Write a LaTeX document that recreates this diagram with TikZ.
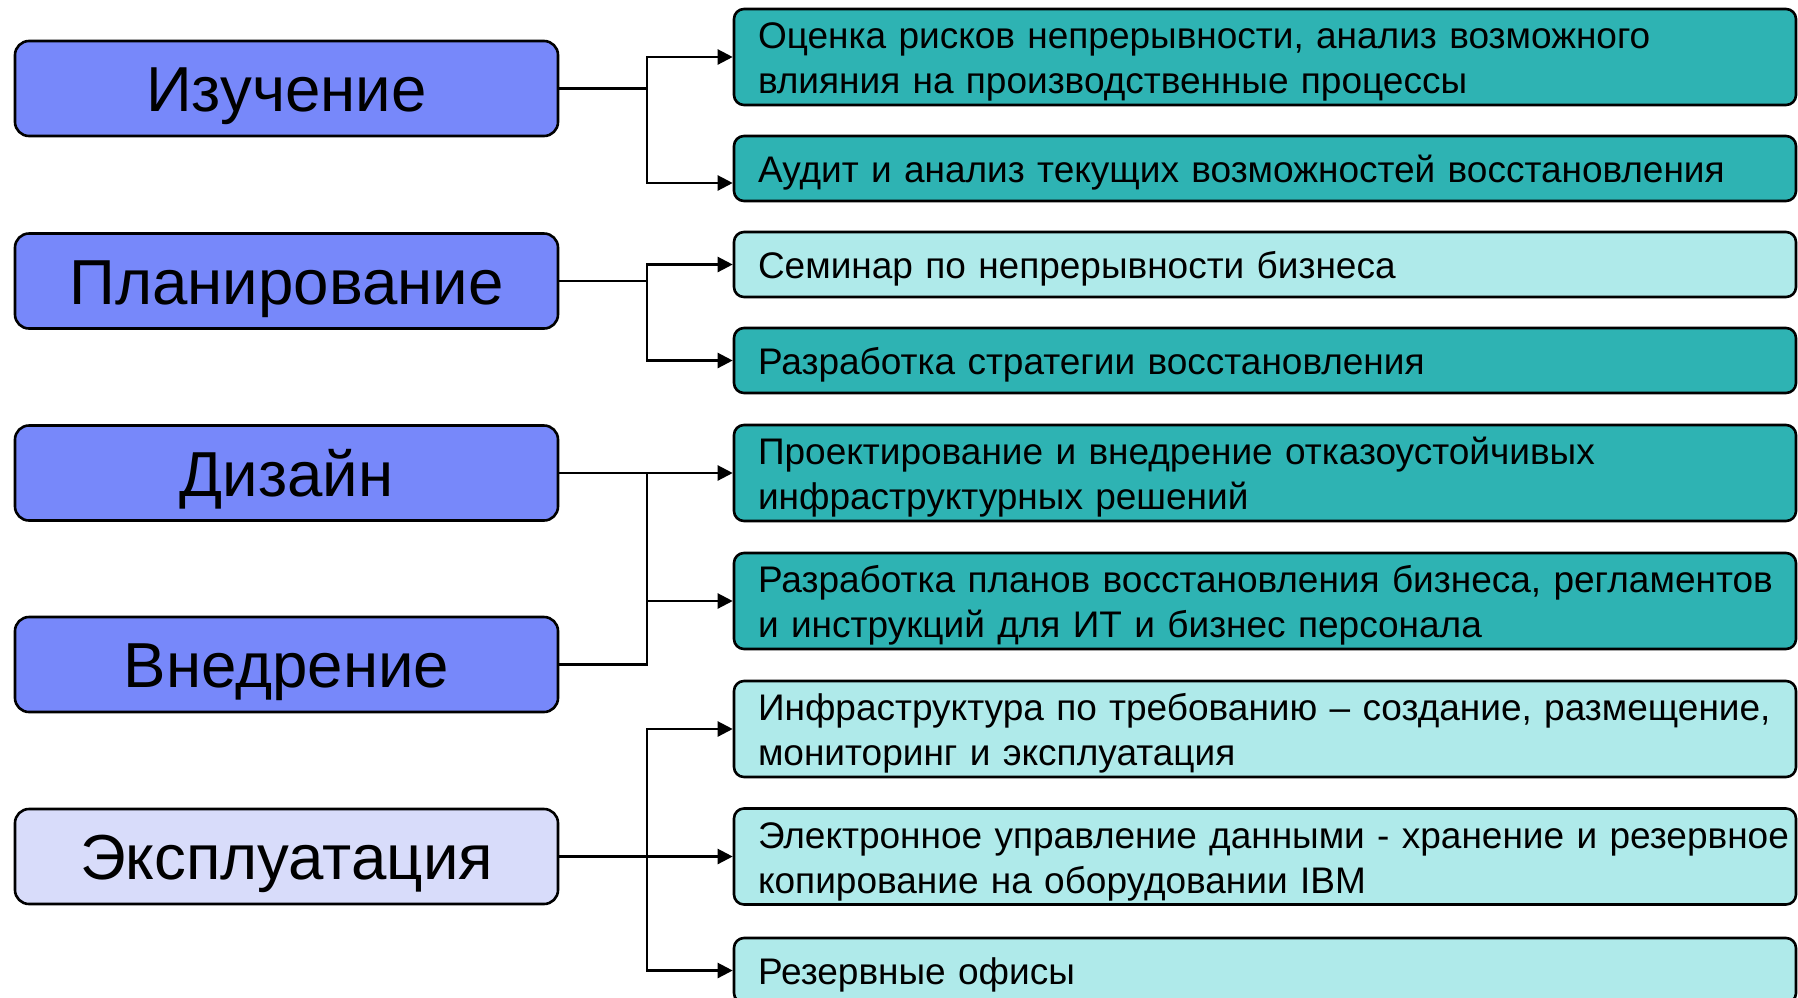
\documentclass[tikz,border=0pt]{standalone}
\usepackage{fontspec}
\setmainfont{Liberation Sans}
\usetikzlibrary{arrows.meta,calc}
\definecolor{phaseblue}{HTML}{7788FA}
\definecolor{phaselight}{HTML}{D8DCFA}
\definecolor{tealdark}{HTML}{2EB3B3}
\definecolor{teallight}{HTML}{AFEAEA}
\tikzset{
  phase/.style={draw=black, line width=1.3pt, rounded corners=7pt, fill=phaseblue,
    minimum width=271.5pt, minimum height=47.5pt, inner sep=0pt,
    text height=29.8pt, text depth=6.6pt,
    font=\fontsize{31.8}{36}\selectfont},
  taskbox/.style={draw=black, line width=1.3pt, rounded corners=5pt,
    text width=507pt, align=left, inner xsep=12pt, inner ysep=0pt,
    text height=18.2pt,
    font=\fontsize{18.5}{22.5}\selectfont},
  tall/.style={minimum height=48pt},
  short/.style={minimum height=32.5pt, text depth=4pt},
  dark/.style={fill=tealdark},
  light/.style={fill=teallight},
  conn/.style={draw=black, line width=1.15pt},
  arr/.style={conn, -{Triangle[length=7.5pt,width=7.5pt]}}
}
\begin{document}
\begin{tikzpicture}[x=0.5pt,y=-0.5pt]
\useasboundingbox (0,0) rectangle (1798,997);
\clip (0,0) rectangle (1798,997);
% phases
\node[phase] (L1) at (286.5,88.5) {Изучение};
\node[phase] (L2) at (286.5,281) {Планирование};
\node[phase] (L3) at (286.5,473) {Дизайн};
\node[phase] (L4) at (286.5,664.5) {Внедрение};
\node[phase, fill=phaselight] (L5) at (286.5,856.5) {Эксплуатация};
% tasks
\node[taskbox, dark, tall] (R1) at (1265,57) {\mbox{Оценка рисков непрерывности, анализ возможного}\\\mbox{влияния на производственные процессы}};
\node[taskbox, dark, short] (R2) at (1265,168.5) {\mbox{Аудит и анализ текущих возможностей восстановления}};
\node[taskbox, light, short] (R3) at (1265,264.5) {Семинар по непрерывности бизнеса};
\node[taskbox, dark, short] (R4) at (1265,360.5) {Разработка стратегии восстановления};
\node[taskbox, dark, tall] (R5) at (1265,473) {\mbox{Проектирование и внедрение отказоустойчивых}\\\mbox{инфраструктурных решений}};
\node[taskbox, dark, tall] (R6) at (1265,601) {\mbox{Разработка планов восстановления бизнеса, регламентов}\\\mbox{и инструкций для ИТ и бизнес персонала}};
\node[taskbox, light, tall] (R7) at (1265,729) {\mbox{Инфраструктура по требованию – создание, размещение,}\\\mbox{мониторинг и эксплуатация}};
\node[taskbox, light, tall] (R8) at (1265,856.5) {\mbox{Электронное управление данными - хранение и резервное}\\\mbox{копирование на оборудовании IBM}};
\node[taskbox, light, short] (R9) at (1265,970.5) {Резервные офисы};
% junctions
\coordinate (j1) at (647,88.5);
\coordinate (j2) at (647,281);
\coordinate (j4) at (647,664.5);
\coordinate (j5) at (647,856.5);
\coordinate (r2a) at (R2.west |- 0,183);
% connectors
\draw[conn] (L1.east) -- (j1);
\draw[arr] (j1) |- (R1.west);
\draw[arr] (j1) |- (r2a);
\draw[conn] (L2.east) -- (j2);
\draw[arr] (j2) |- (R3.west);
\draw[arr] (j2) |- (R4.west);
\draw[arr] (L3.east) -- (R5.west);
\draw[conn] (L4.east) -- (j4) -- (j4 |- R5.west);
\draw[arr] (j4) |- (R6.west);
\draw[arr] (L5.east) -- (R8.west);
\draw[arr] (j5) |- (R7.west);
\draw[arr] (j5) |- (R9.west);
\end{tikzpicture}
\end{document}
